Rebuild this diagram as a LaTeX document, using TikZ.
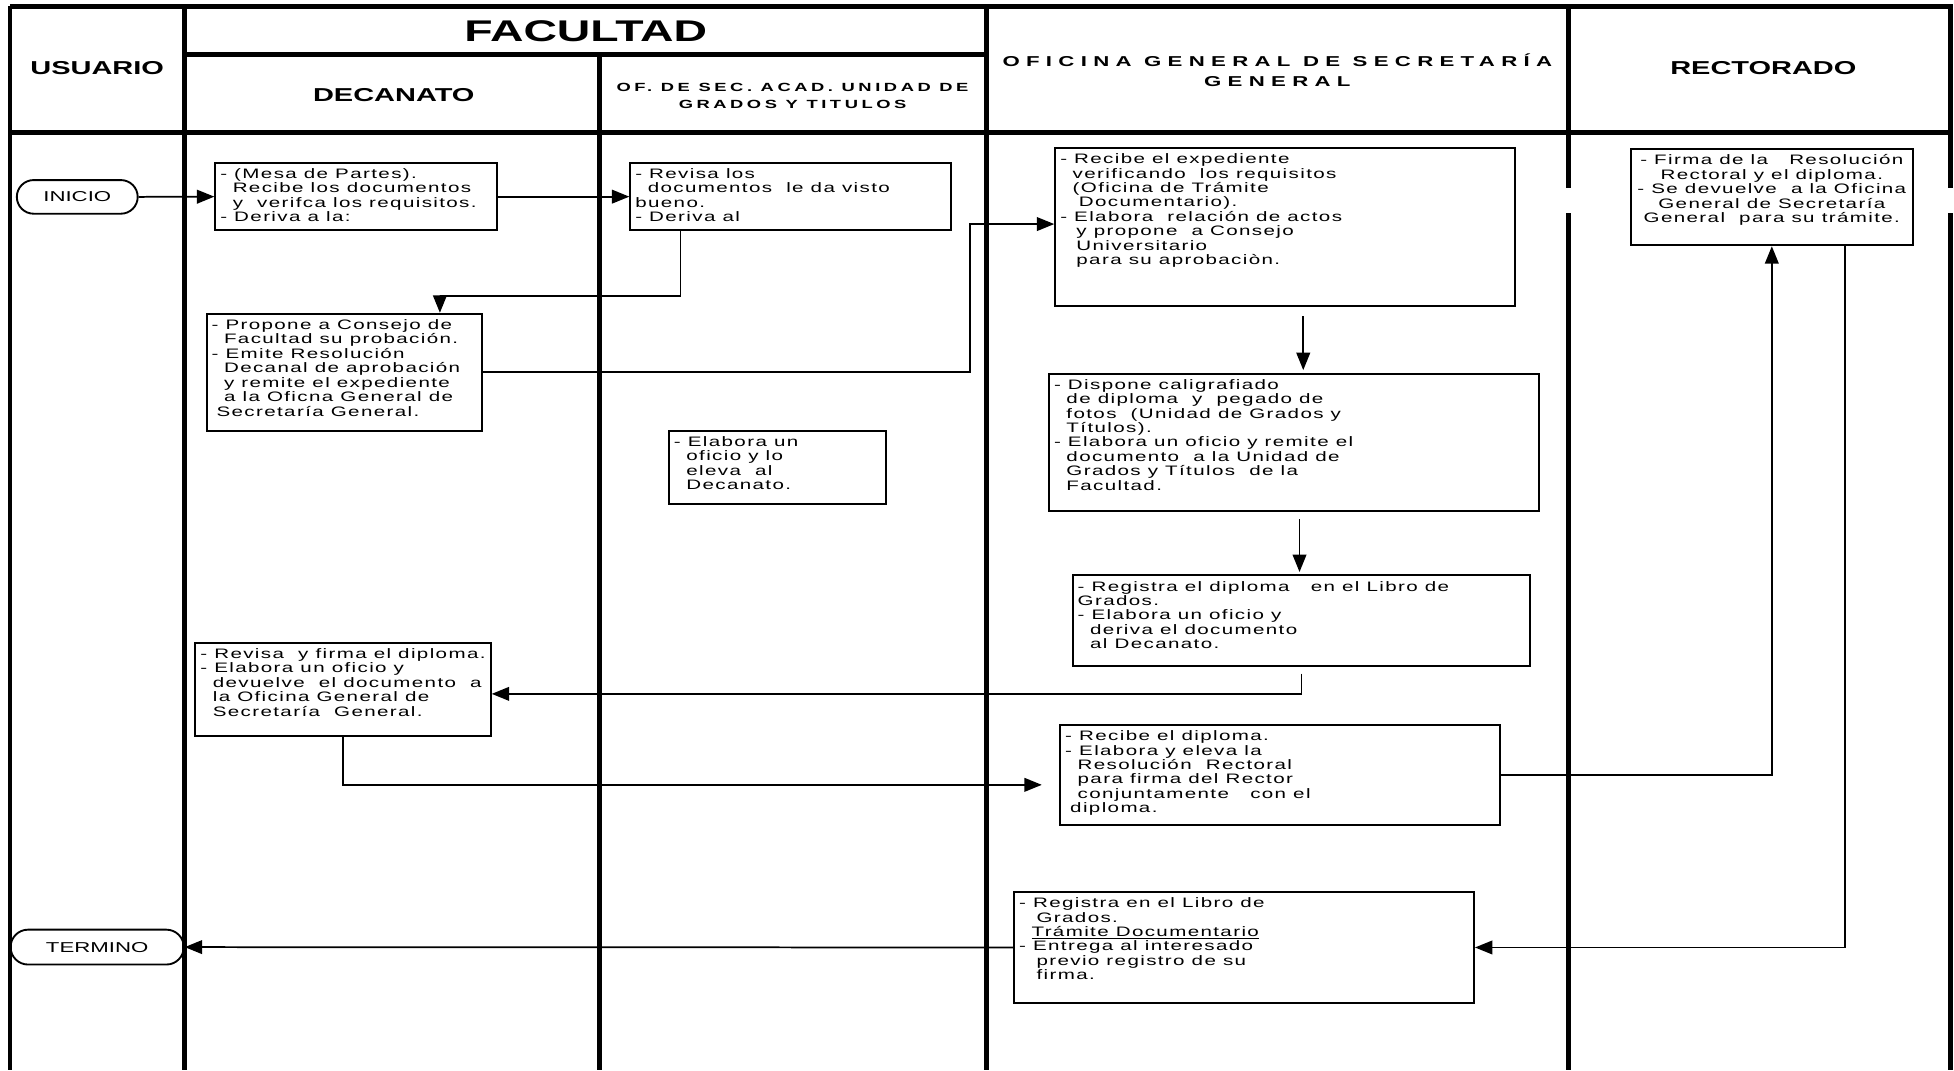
\documentclass[tikz,border=0pt]{standalone}
\usepackage{fontspec}
\setmainfont{Liberation Sans}
\newfontfamily\cajafont[FakeStretch=1.5,LetterSpace=10]{Liberation Sans}
\newfontfamily\titfont[FakeStretch=1.55]{Liberation Sans}
\newfontfamily\espfont[FakeStretch=1.55,LetterSpace=30]{Liberation Sans}
\newfontfamily\espanchafont[FakeStretch=1.55,LetterSpace=44]{Liberation Sans}
\usetikzlibrary{arrows.meta,shapes.misc}

\newcommand{\ind}{\hspace*{10pt}}
\newcommand{\caja}[3]{\parbox[t][#2][t]{#1}{\vspace*{1.5pt}\raggedright #3}}

\tikzset{
  carril/.style={line width=4pt},
  paso/.style={draw, line width=1.6pt, anchor=north west, inner xsep=4pt, inner ysep=3pt,
    font=\cajafont\fontsize{11}{11.6}\selectfont},
  extremo/.style={draw, rounded rectangle, line width=1.5pt, inner sep=0pt,
    font=\titfont\fontsize{11.5}{12}\selectfont},
  flecha/.style={line width=1.4pt, -{Triangle[length=14pt,width=11pt]}},
  cabeza/.style={font=\titfont\bfseries\fontsize{15}{17}\selectfont, align=center},
}

\begin{document}
\begin{tikzpicture}[x=1pt,y=-1pt]
  \useasboundingbox (0,0) rectangle (1568,859);

  \draw[carril] (8,5) -- (1567,5);
  \draw[line width=2.5pt] (8,5) -- (8,859);
  \draw[carril] (148,5) -- (148,859);
  \draw[carril] (481,44) -- (481,859);
  \draw[carril] (792,5) -- (792,859);
  \draw[carril] (1259,5) -- (1259,151) (1259,171) -- (1259,859);
  \draw[carril] (1565,5) -- (1565,151) (1565,171) -- (1565,859);
  \draw[carril] (148,44) -- (792,44);
  \draw[carril] (8,106) -- (1567,106);

  \node[cabeza, font=\titfont\bfseries\fontsize{24}{26}\selectfont] (facultad) at (470,25) {FACULTAD};
  \node[cabeza] (usuario) at (78,55) {USUARIO};
  \node[cabeza] (decanato) at (316,76) {DECANATO};
  \node[cabeza, font=\espfont\bfseries\fontsize{9.5}{14}\selectfont] (ofsec) at (636,77)
    {OF. DE SEC. ACAD. UNIDAD DE\\GRADOS Y TITULOS};
  \node[cabeza, font=\espanchafont\bfseries\fontsize{11.5}{16}\selectfont] (ogsg) at (1025,56)
    {OFICINA GENERAL DE SECRETARÍA\\GENERAL};
  \node[cabeza] (rectorado) at (1415,55) {RECTORADO};

  \node[extremo, minimum width=97pt, minimum height=27pt] (inicio) at (62,158) {INICIO};
  \node[extremo, minimum width=139pt, minimum height=28pt] (termino) at (78,760) {TERMINO};

  \node[paso] (decA) at (172,130) {\caja{218pt}{48pt}{%
    - (Mesa de Partes).\\
    \ind Recibe\ los documentos\\
    \ind y\ \ verifca los requisitos.\\
    - Deriva a la:}};
  \node[paso] (secA) at (505,130) {\caja{249pt}{48pt}{%
    - Revisa los\\
    \ind documentos\ \ le da visto\\
    bueno.\\
    - Deriva al}};
  \node[paso] (decB) at (165,251) {\caja{213pt}{88pt}{%
    - Propone a Consejo de\\
    \ind Facultad su probación.\\
    - Emite Resolución\\
    \ind Decanal de aprobación\\
    \ind y remite el expediente\\
    \ind a la Oficna General de\\
    \hspace*{4pt}Secretaría General.}};
  \node[paso] (secB) at (536,345) {\caja{166pt}{53pt}{%
    - Elabora un\\
    \ind oficio y lo\\
    \ind eleva\ \ al\\
    \ind Decanato.}};
  \node[paso] (decC) at (156,515) {\caja{229pt}{69pt}{%
    - Revisa\ \ y firma el diploma.\\
    - Elabora un oficio y\\
    \ind devuelve\ \ el documento\ \ a\\
    \ind la Oficina General de\\
    \ind Secretaría\ \ General.}};

  \node[paso] (ogA) at (846,118) {\caja{361pt}{121pt}{%
    - Recibe el expediente\\
    \ind verificando\ \ los requisitos\\
    \ind (Oficina de Trámite\\
    \ind\hspace*{5pt}Documentario).\\
    - Elabora\ \ relación de actos\\
    \ind\hspace*{3pt}y propone\ \ a Consejo\\
    \ind\hspace*{3pt}Universitario\\
    \ind\hspace*{3pt}para su aprobaciòn.}};
  \node[paso] (ogB) at (841,299) {\caja{385pt}{104pt}{%
    - Dispone caligrafiado\\
    \ind de diploma\ \ y\ \ pegado de\\
    \ind fotos\ \ (Unidad de Grados y\\
    \ind Títulos).\\
    - Elabora un oficio y remite el\\
    \ind documento\ \ a la Unidad de\\
    \ind Grados y Títulos\ \ de la\\
    \ind Facultad.}};
  \node[paso] (ogC) at (860,461) {\caja{359pt}{67pt}{%
    - Registra el diploma\ \ \ en el Libro de\\
    Grados.\\
    - Elabora un oficio y\\
    \ind deriva el documento\\
    \ind al Decanato.}};
  \node[paso] (ogD) at (850,581) {\caja{345pt}{74pt}{%
    - Recibe el diploma.\\
    - Elabora y eleva la\\
    \ind Resolución\ \ Rectoral\\
    \ind para firma del Rector\\
    \ind conjuntamente\ \ \ con el\\
    \hspace*{4pt}diploma.}};
  \node[paso] (ogE) at (813,715) {\caja{361pt}{83pt}{%
    - Registra en el Libro de\\
    \ind\hspace*{4pt}Grados.\\
    \ind\underline{Trámite Documentario}\\
    - Entrega al interesado\\
    \ind\hspace*{4pt}previo registro de su\\
    \ind\hspace*{4pt}firma.}};

  \node[paso] (recA) at (1308,119) {\caja{218pt}{71pt}{\centering
    - Firma de la\ \ \ Resolución\\
    Rectoral y el diploma.\\
    - Se devuelve\ \ a la Oficina\\
    General de Secretaría\\
    General\ \ para su trámite.}};

  \draw[flecha] (inicio.east) -- (decA.west);
  \draw[flecha] (decA.east) -- (secA.west);
  \draw[flecha] ([xshift=41pt]secA.south west) -- ++(0,52) -| ([xshift=188pt]decB.north west);
  \draw[flecha] (decB.east) -- ++(391,0) |- ([yshift=2.5pt]ogA.west);
  \draw[flecha, shorten <=7pt, shorten >=2pt] ([xshift=14.5pt]ogA.south) -- ([xshift=14.5pt]ogA.south |- ogB.north);
  \draw[flecha, shorten <=6pt, shorten >=2pt] ([xshift=4.5pt]ogB.south) -- ([xshift=4.5pt]ogB.south |- ogC.north);
  \draw[flecha, shorten <=5pt] (ogC.south) |- ([yshift=-3.5pt]decC.east);
  \draw[flecha, shorten >=14pt] (decC.south) |- ([yshift=-8pt]ogD.west);
  \draw[flecha] (ogD.east) -| (recA.south);
  \draw[flecha] ([xshift=59pt]recA.south) |- (ogE.east);
  \draw[flecha] (ogE.west) -- (termino.east);
\end{tikzpicture}
\end{document}
